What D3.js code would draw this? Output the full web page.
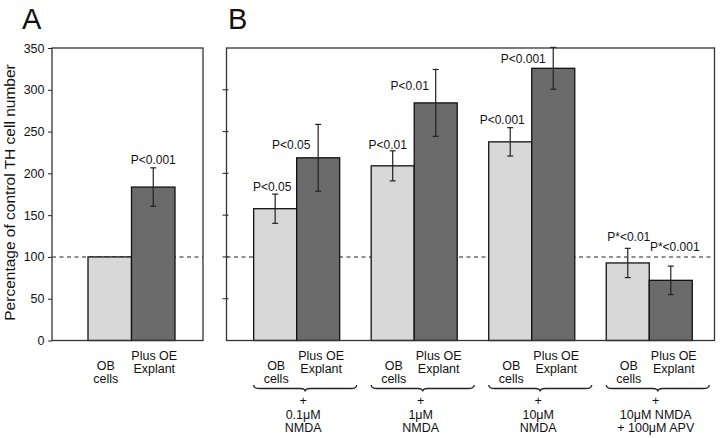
<!DOCTYPE html>
<html lang="en">
<head>
    <meta charset="UTF-8">
    <title>TH cell number</title>
    <script src="https://cdn.jsdelivr.net/npm/d3@7"></script>
    <style>
        html, body {
            padding: 0;
            margin: 0;
            background: #fff;
        }
        svg text {
            font-family: "Liberation Sans", Arial, sans-serif;
            fill: #111;
        }
    </style>
</head>
<body>
<script>
// data
const yTicks = [0, 50, 100, 150, 200, 250, 300, 350]
const baseline = 100

// panel A
const aCategories = ["OB cells", "Plus OE Explant"]
const aValues = [100, 183.6]
const aErrors = [0, 23]
const aPLabels = ["", "P<0.001"]

// panel B, four treatment groups
const groups = ["0.1uM", "1uM", "10uM", "10uM+APV"]
const groupText = [
    ["+", "0.1μM", "NMDA"],
    ["+", "1μM", "NMDA"],
    ["+", "10μM", "NMDA"],
    ["+", "10μM NMDA", "+ 100μM APV"]
]
const obValues = [157.7, 209, 237.7, 92.8]
const obErrors = [17.5, 18, 17, 17.5]
const oeValues = [218.6, 284.3, 325.7, 72]
const oeErrors = [40, 40, 25, 17]
const obPLabels = ["P<0.05", "P<0.01", "P<0.001", "P*<0.01"]
const oePLabels = ["P<0.05", "P<0.01", "P<0.001", "P*<0.001"]

// label nudges in px (layout only) [dx, dy from error top]
const aNudge = [[0, 0], [0, -4]]
const obNudge = [[-3, -3.5], [-5, -1.7], [-8, -4], [1, -7]]
const oeNudge = [[-27, 24.5], [-26, 21], [-30, 16], [4, -15]]

const cfg = {
    w: 720, h: 438,
    top: 48, bottom: 340.5,
    a: {x0: 52, x1: 203, bar0: 88, bar1: 175},
    b: {x0: 226.5, x1: 714.5},
    light: "#d8d8d8",
    dark: "#6b6b6b",
    frame: "#333"
}

const svg = d3.select("body").append("svg")
    .attr("width", cfg.w)
    .attr("height", cfg.h)

const y = d3.scaleLinear().domain([0, 350]).range([cfg.bottom, cfg.top])

// x scales
const xA = d3.scaleBand().domain(aCategories).range([cfg.a.bar0, cfg.a.bar1]).padding(0)
const xG = d3.scaleBand().domain(groups).range([cfg.b.x0, cfg.b.x1])
    .paddingInner(0.268).paddingOuter(0.21).align(0.55)
const xIn = d3.scaleBand().domain(["ob", "oe"]).range([0, xG.bandwidth()]).padding(0)

// frames
function frame(x0, x1) {
    svg.append("rect")
        .attr("x", x0).attr("y", cfg.top)
        .attr("width", x1 - x0).attr("height", cfg.bottom - cfg.top)
        .attr("fill", "none")
        .attr("stroke", cfg.frame)
        .attr("stroke-width", 1.3)
}

// dashed 100% line
function dashed(x0, x1) {
    svg.append("line")
        .attr("x1", x0).attr("x2", x1)
        .attr("y1", y(baseline)).attr("y2", y(baseline))
        .attr("stroke", "#222")
        .attr("stroke-width", 1.1)
        .attr("stroke-dasharray", "4,3.5")
}
dashed(cfg.a.x0, cfg.a.x1)
dashed(cfg.b.x0, cfg.b.x1)

// y axis of A with labels
const axisA = svg.append("g")
    .attr("transform", `translate(${cfg.a.x0},0)`)
    .call(d3.axisLeft(y).tickValues(yTicks).tickSize(4).tickPadding(3.5))
axisA.select(".domain").remove()
axisA.selectAll("line").attr("stroke", "#222")
axisA.selectAll("text").style("font-size", "12.5px").attr("fill", "#1a1a1a")

// y axis of B, only tick marks crossing the axis
svg.append("g").selectAll("line")
    .data(yTicks.slice(1, -1))
    .join("line")
    .attr("x1", cfg.b.x0 - 4).attr("x2", cfg.b.x0 + 2)
    .attr("y1", d => y(d)).attr("y2", d => y(d))
    .attr("stroke", "#222")

// bars helper
function bar(x, w, v, err, color, label, nudge) {
    svg.append("rect")
        .attr("x", x).attr("y", y(v))
        .attr("width", w).attr("height", y(0) - y(v))
        .attr("fill", color)
        .attr("stroke", "#111")
        .attr("stroke-width", 1.3)
    const cx = x + w / 2
    if (err > 0) {
        const g = svg.append("g").attr("stroke", "#222").attr("stroke-width", 1.2)
        g.append("line").attr("x1", cx).attr("x2", cx).attr("y1", y(v + err)).attr("y2", y(v - err))
        g.append("line").attr("x1", cx - 3).attr("x2", cx + 3).attr("y1", y(v + err)).attr("y2", y(v + err))
        g.append("line").attr("x1", cx - 3).attr("x2", cx + 3).attr("y1", y(v - err)).attr("y2", y(v - err))
    }
    if (label) {
        svg.append("text")
            .attr("x", cx + nudge[0])
            .attr("y", y(v + err) + nudge[1])
            .attr("text-anchor", "middle")
            .style("font-size", "12px")
            .text(label)
    }
}

// category label under a bar
function catLabel(cx, isOB) {
    const lines = isOB ? ["OB", "cells"] : ["Plus OE", "Explant"]
    const y0 = isOB ? 370 : 360
    const t = svg.append("text")
        .attr("text-anchor", "middle")
        .style("font-size", "12.5px")
    lines.forEach((l, i) => {
        t.append("tspan").attr("x", cx).attr("y", y0 + i * 12.5).text(l)
    })
}

// panel A
aCategories.forEach((c, i) => {
    bar(xA(c), xA.bandwidth(), aValues[i], aErrors[i], i == 0 ? cfg.light : cfg.dark, aPLabels[i], aNudge[i])
    catLabel(xA(c) + xA.bandwidth() / 2 + (i == 0 ? -4 : 1), i == 0)
})

// panel B
groups.forEach((g, i) => {
    const gx = xG(g)
    bar(gx + xIn("ob"), xIn.bandwidth(), obValues[i], obErrors[i], cfg.light, obPLabels[i], obNudge[i])
    bar(gx + xIn("oe"), xIn.bandwidth(), oeValues[i], oeErrors[i], cfg.dark, oePLabels[i], oeNudge[i])
    catLabel(gx + xIn("ob") + xIn.bandwidth() / 2 + 1, true)
    catLabel(gx + xIn("oe") + xIn.bandwidth() / 2 + 3, false)

    // curly brace under the group
    const bx0 = gx, bx1 = gx + xG.bandwidth() + 17, by = 388.5
    const mid = (bx0 + bx1) / 2
    const p = d3.path()
    p.moveTo(bx0, by - 3.5)
    p.quadraticCurveTo(bx0, by, bx0 + 6, by)
    p.lineTo(mid - 5, by)
    p.quadraticCurveTo(mid, by, mid, by + 3)
    p.quadraticCurveTo(mid, by, mid + 5, by)
    p.lineTo(bx1 - 6, by)
    p.quadraticCurveTo(bx1, by, bx1, by - 3.5)
    svg.append("path")
        .attr("d", p.toString())
        .attr("fill", "none")
        .attr("stroke", "#222")
        .attr("stroke-width", 1.3)

    const t = svg.append("text")
        .attr("text-anchor", "middle")
        .style("font-size", "12.5px")
    groupText[i].forEach((l, k) => {
        t.append("tspan").attr("x", mid - 2).attr("y", 405 + k * 13.5).text(l)
    })
})

// frames on top of everything
frame(cfg.a.x0, cfg.a.x1)
frame(cfg.b.x0, cfg.b.x1)

// y axis title
svg.append("text")
    .attr("transform", `translate(15,192.5) rotate(-90)`)
    .attr("text-anchor", "middle")
    .style("font-size", "15.5px")
    .text("Percentage of control TH cell number")

// panel letters
svg.append("text").attr("x", 22).attr("y", 29).style("font-size", "29px").text("A")
svg.append("text").attr("x", 228).attr("y", 29).style("font-size", "29px").text("B")
</script>
</body>
</html>
